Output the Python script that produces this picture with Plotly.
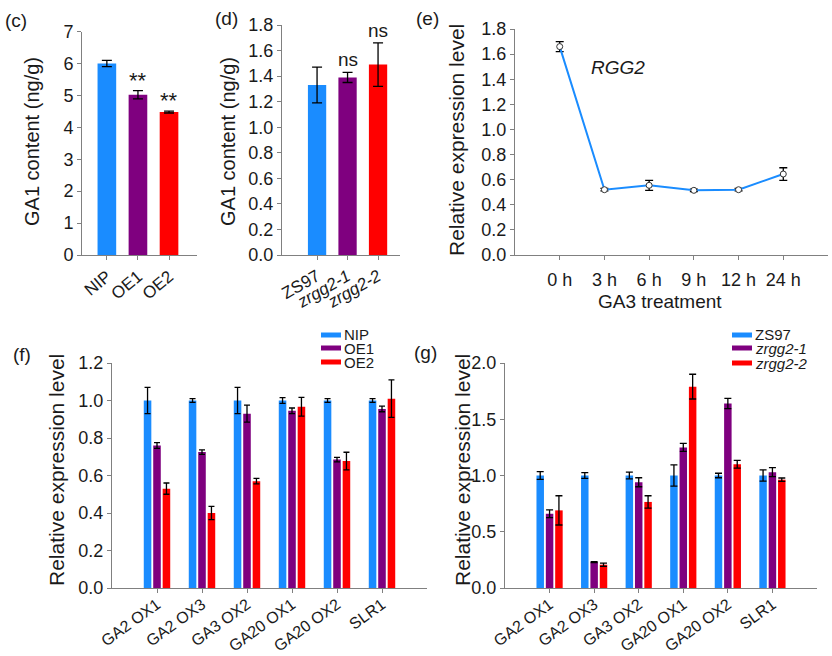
import plotly.graph_objects as go

W, H = 832, 656
def px(x): return x / W
def py(y): return 1 - y / H

BLUE = '#1a8cff'
PURPLE = '#7f007f'
RED = '#ff0000'
TXT = '#1a1a1a'
AXC = '#808080'
FONT = 'Arial, Liberation Sans, sans-serif'

# ---- data ----
c_cats = ['NIP', 'OE1', 'OE2']
c_vals = [6.0, 5.02, 4.48]
c_err = [0.1, 0.13, 0.03]
c_sig = ['', '**', '**']

d_cats = ['ZS97', 'zrgg2-1', 'zrgg2-2']
d_labels = ['ZS97', '<i>zrgg2-1</i>', '<i>zrgg2-2</i>']
d_vals = [1.33, 1.39, 1.49]
d_err = [0.14, 0.04, 0.17]
d_sig = ['', 'ns', 'ns']

e_times = ['0 h', '3 h', '6 h', '9 h', '12 h', '24 h']
e_vals = [1.66, 0.52, 0.555, 0.515, 0.52, 0.645]
e_err = [0.04, 0.01, 0.04, 0.01, 0.01, 0.05]

genes = ['GA2 OX1', 'GA2 OX3', 'GA3 OX2', 'GA20 OX1', 'GA20 OX2', 'SLR1']

f_names = ['NIP', 'OE1', 'OE2']
f_nip = [1.0, 1.0, 1.0, 1.0, 1.0, 1.0]
f_nip_err = [0.07, 0.01, 0.07, 0.015, 0.01, 0.01]
f_oe1 = [0.76, 0.725, 0.93, 0.945, 0.685, 0.955]
f_oe1_err = [0.015, 0.012, 0.045, 0.015, 0.012, 0.015]
f_oe2 = [0.53, 0.40, 0.57, 0.967, 0.677, 1.01]
f_oe2_err = [0.03, 0.035, 0.015, 0.05, 0.047, 0.10]

g_names = ['ZS97', '<i>zrgg2-1</i>', '<i>zrgg2-2</i>']
g_zs97 = [1.0, 1.0, 1.0, 1.0, 1.0, 1.0]
g_zs97_err = [0.035, 0.025, 0.03, 0.095, 0.02, 0.05]
g_z1 = [0.66, 0.23, 0.94, 1.25, 1.64, 1.03]
g_z1_err = [0.035, 0.005, 0.04, 0.035, 0.045, 0.04]
g_z2 = [0.69, 0.207, 0.765, 1.79, 1.10, 0.963]
g_z2_err = [0.13, 0.015, 0.055, 0.11, 0.035, 0.015]

colors = [BLUE, PURPLE, RED]

def err(arr, w):
    return dict(type='data', array=arr, visible=True, color='black', thickness=1.3, width=w)

fig = go.Figure()

# (c)
fig.add_trace(go.Bar(x=c_cats, y=c_vals, marker_color=colors, width=0.6,
                     error_y=err(c_err, 5), xaxis='x', yaxis='y', showlegend=False))
# (d)
fig.add_trace(go.Bar(x=d_cats, y=d_vals, marker_color=colors, width=0.6,
                     error_y=err(d_err, 5), xaxis='x2', yaxis='y2', showlegend=False))
# (e)
fig.add_trace(go.Scatter(x=e_times, y=e_vals, mode='lines+markers',
                         line=dict(color=BLUE, width=2),
                         marker=dict(symbol='circle', size=6, color='white',
                                     line=dict(color='#333', width=1)),
                         error_y=err(e_err, 4), xaxis='x3', yaxis='y3', showlegend=False))
# (f)
for name, vals, e, col in zip(f_names, [f_nip, f_oe1, f_oe2],
                              [f_nip_err, f_oe1_err, f_oe2_err], colors):
    fig.add_trace(go.Bar(x=genes, y=vals, name=name, marker_color=col,
                         error_y=err(e, 3), xaxis='x4', yaxis='y4', showlegend=False))
# (g)
for name, vals, e, col in zip(g_names, [g_zs97, g_z1, g_z2],
                              [g_zs97_err, g_z1_err, g_z2_err], colors):
    fig.add_trace(go.Bar(x=genes, y=vals, name=name, marker_color=col,
                         error_y=err(e, 3.5), xaxis='x5', yaxis='y5', showlegend=False))


def xax(x0, x1, anchor, rng, **kw):
    d = dict(domain=[px(x0), px(x1)], anchor=anchor, range=rng, type='category',
             automargin=False,
             showline=True, linecolor=AXC, linewidth=1, ticks='outside', ticklen=4,
             tickcolor=AXC, showgrid=False, zeroline=False,
             tickfont=dict(size=17, color=TXT, family=FONT))
    d.update(kw)
    return d


def yax(y0, y1, anchor, rng, dtick, fmt, **kw):
    d = dict(domain=[py(y1), py(y0)], anchor=anchor, range=rng, dtick=dtick, tickformat=fmt,
             automargin=False,
             showline=True, linecolor=AXC, linewidth=1, ticks='outside', ticklen=4,
             tickcolor=AXC, showgrid=False, zeroline=False,
             tickfont=dict(size=18, color=TXT, family=FONT))
    d.update(kw)
    return d

small = dict(size=16, color=TXT, family=FONT)

fig.update_layout(
    template='none',
    width=W, height=H, autosize=False,
    margin=dict(l=0, r=0, t=0, b=0, pad=0),
    paper_bgcolor='white', plot_bgcolor='white',
    font=dict(family=FONT, color=TXT),
    barmode='group', bargap=0.37, bargroupgap=0.2,
    xaxis=xax(82, 197, 'y', [-0.8, 2.9], tickangle=-40),
    yaxis=yax(31.6, 255, 'x', [0, 7], 1, 'd'),
    xaxis2=xax(282, 400, 'y2', [-1.15, 2.72], tickangle=-30,
               tickvals=d_cats, ticktext=d_labels),
    yaxis2=yax(25, 255, 'x2', [0, 1.8], 0.2, '.1f'),
    xaxis3=xax(515, 828, 'y3', [-1, 6], tickangle=0, ticklabelstandoff=4,
               tickfont=dict(size=18, color=TXT, family=FONT)),
    yaxis3=yax(29, 255, 'x3', [0, 1.8], 0.2, '.1f'),
    xaxis4=xax(112, 427, 'y4', [-1, 6], tickangle=-36, tickfont=small, ticklabelstandoff=-4),
    yaxis4=yax(363, 588, 'x4', [0, 1.2], 0.2, '.1f'),
    xaxis5=xax(505, 817, 'y5', [-1, 6], tickangle=-36, tickfont=small, ticklabelstandoff=-4),
    yaxis5=yax(363, 588, 'x5', [0, 2.0], 0.5, '.1f'),
)

ann = []
def txt(x, y, s, size, **kw):
    a = dict(x=px(x), y=py(y), xref='paper', yref='paper', text=s, showarrow=False,
             font=dict(size=size, color=TXT, family=FONT), xanchor='center', yanchor='middle')
    a.update(kw)
    ann.append(a)

# panel labels
txt(16, 21, '(c)', 19)
txt(227, 19, '(d)', 19)
txt(427, 18, '(e)', 19)
txt(22, 354, '(f)', 19)
txt(426, 352, '(g)', 19)

# y titles
txt(32, 142, 'GA1 content (ng/g)', 20, textangle=-90)
txt(228, 142, 'GA1 content (ng/g)', 20, textangle=-90)
txt(457, 140, 'Relative expression level', 21, textangle=-90)
txt(56, 470, 'Relative expression level', 21, textangle=-90)
txt(462, 470, 'Relative expression level', 21, textangle=-90)

# x title (e)
txt(660, 301, 'GA3 treatment', 19)
# gene label (e)
txt(618, 67, '<i>RGG2</i>', 19)

# significance marks
for cat, v, e, s in zip(c_cats, c_vals, c_err, c_sig):
    if s:
        ann.append(dict(x=cat, y=v + e, xref='x', yref='y', text=s, showarrow=False,
                        yanchor='bottom', yshift=-4, font=dict(size=22, color=TXT, family=FONT)))
for cat, v, e, s in zip(d_cats, d_vals, d_err, d_sig):
    if s:
        ann.append(dict(x=cat, y=v + e, xref='x2', yref='y2', text=s, showarrow=False,
                        yanchor='bottom', yshift=0, font=dict(size=19, color=TXT, family=FONT)))

# legends (swatches + labels)
shapes = []
def legend(x0, ys, names):
    for yy, name, col in zip(ys, names, colors):
        shapes.append(dict(type='rect', xref='paper', yref='paper',
                           x0=px(x0), x1=px(x0 + 20), y0=py(yy + 2.5), y1=py(yy - 2.5),
                           fillcolor=col, line=dict(width=0)))
        ann.append(dict(x=px(x0 + 21), y=py(yy), xref='paper', yref='paper', text=name,
                        showarrow=False, xanchor='left', yanchor='middle',
                        font=dict(size=15, color=TXT, family=FONT)))

legend(321, [335, 348, 362], f_names)
legend(732, [335, 348, 363], g_names)

fig.update_layout(annotations=ann, shapes=shapes)
fig.write_html('out.html', config={'displayModeBar': False},
               post_script="document.body.style.margin='0';document.body.style.overflow='hidden';")
